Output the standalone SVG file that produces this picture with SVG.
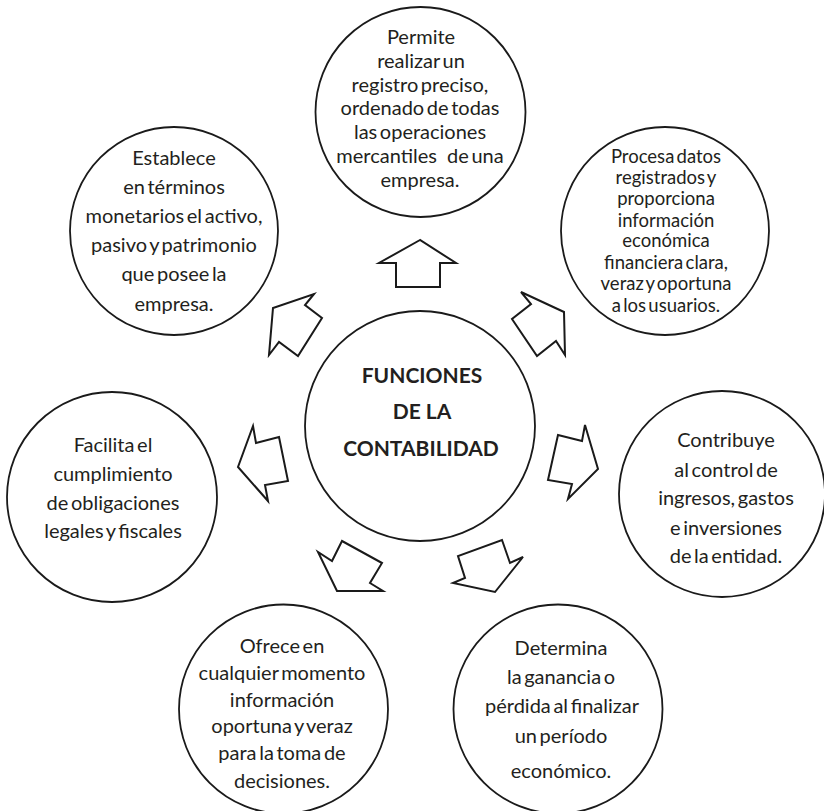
<svg xmlns="http://www.w3.org/2000/svg" width="824" height="811" viewBox="0 0 824 811">
<style>
.c{fill:#fff;stroke:#1a1a1a;stroke-width:1.8}
.t{font-family:Lato,"Noto Sans",sans-serif;font-size:20px;fill:#231f20;text-anchor:middle;word-spacing:-2.5px}
.s{font-size:18.5px}
.b{font-family:Lato,"Noto Sans",sans-serif;font-weight:bold;font-size:21px;fill:#231f20;text-anchor:middle}
.a{fill:#fff;stroke:#1a1a1a;stroke-width:2;stroke-linejoin:miter}
</style>
<rect width="824" height="811" fill="#fff"/>
<g id="connectors">
<polygon class="a" points="420,240 379,263 396,263 396,287 440,287 440,263 456,263"/>
<polygon class="a" points="521,292 531,304 512,319 537,356 556,341 565,355 564,312"/>
<polygon class="a" points="314,294 305,305 322,318 298,356 279,342 269,355 273,308"/>
<polygon class="a" points="585,425 582,441 558,435 548,480 572,484 568,499 598,469"/>
<polygon class="a" points="253,426 256,443 279,437 288,481 265,485 268,501 238,467"/>
<polygon class="a" points="342,541 332,561 318,552 337,591 383,591 370,583 382,563"/>
<polygon class="a" points="502,540 510,563 523,557 495,592 453,583 465,578 458,556"/>
</g>
<g id="center">
<circle class="c" cx="420" cy="426" r="115"/>
<text class="b" x="422" y="383">FUNCIONES</text>
<text class="b" x="422" y="419">DE LA</text>
<text class="b" x="421" y="456">CONTABILIDAD</text>
</g>
<g id="n-top">
<circle class="c" cx="420.5" cy="112" r="105"/>
<text class="t"><tspan x="421" y="44">Permite</tspan><tspan x="421" y="68">realizar un</tspan><tspan x="420" y="92">registro preciso,</tspan><tspan x="420" y="115">ordenado de todas</tspan><tspan x="420" y="139">las operaciones</tspan><tspan x="420" y="163">mercantiles<tspan dx="10">de una</tspan></tspan><tspan x="420" y="187">empresa.</tspan></text>
</g>
<g id="n-topright">
<circle class="c" cx="665" cy="231" r="104"/>
<text class="t s"><tspan x="666" y="163">Procesa datos</tspan><tspan x="666" y="184">registrados y</tspan><tspan x="666" y="205">proporciona</tspan><tspan x="666" y="227">información</tspan><tspan x="666" y="247">económica</tspan><tspan x="666" y="269">financiera clara,</tspan><tspan x="666" y="290">veraz y oportuna</tspan><tspan x="666" y="312">a los usuarios.</tspan></text>
</g>
<g id="n-right">
<circle class="c" cx="722" cy="494" r="103"/>
<text class="t"><tspan x="726" y="447">Contribuye</tspan><tspan x="726" y="477">al control de</tspan><tspan x="726" y="505">ingresos, gastos</tspan><tspan x="726" y="535">e inversiones</tspan><tspan x="726" y="563">de la entidad.</tspan></text>
</g>
<g id="n-bottomright">
<circle class="c" cx="558" cy="709" r="104.5"/>
<text class="t"><tspan x="561" y="655">Determina</tspan><tspan x="561" y="684">la ganancia o</tspan><tspan x="562" y="713">pérdida al finalizar</tspan><tspan x="561" y="743">un período</tspan><tspan x="561" y="778">económico.</tspan></text>
</g>
<g id="n-bottomleft">
<circle class="c" cx="283.5" cy="709" r="104.5"/>
<text class="t"><tspan x="282" y="653">Ofrece en</tspan><tspan x="282" y="680">cualquier momento</tspan><tspan x="282" y="707">información</tspan><tspan x="282" y="733">oportuna y veraz</tspan><tspan x="282" y="760">para la toma de</tspan><tspan x="282" y="788">decisiones.</tspan></text>
</g>
<g id="n-left">
<circle class="c" cx="112" cy="497" r="105"/>
<text class="t"><tspan x="113" y="452">Facilita el</tspan><tspan x="113" y="481">cumplimiento</tspan><tspan x="113" y="510">de obligaciones</tspan><tspan x="113" y="538">legales y fiscales</tspan></text>
</g>
<g id="n-topleft">
<circle class="c" cx="174" cy="231" r="104"/>
<text class="t"><tspan x="174" y="165">Establece</tspan><tspan x="174" y="194">en términos</tspan><tspan x="174" y="223">monetarios el activo,</tspan><tspan x="174" y="252">pasivo y patrimonio</tspan><tspan x="174" y="281">que posee la</tspan><tspan x="174" y="311">empresa.</tspan></text>
</g>
</svg>
